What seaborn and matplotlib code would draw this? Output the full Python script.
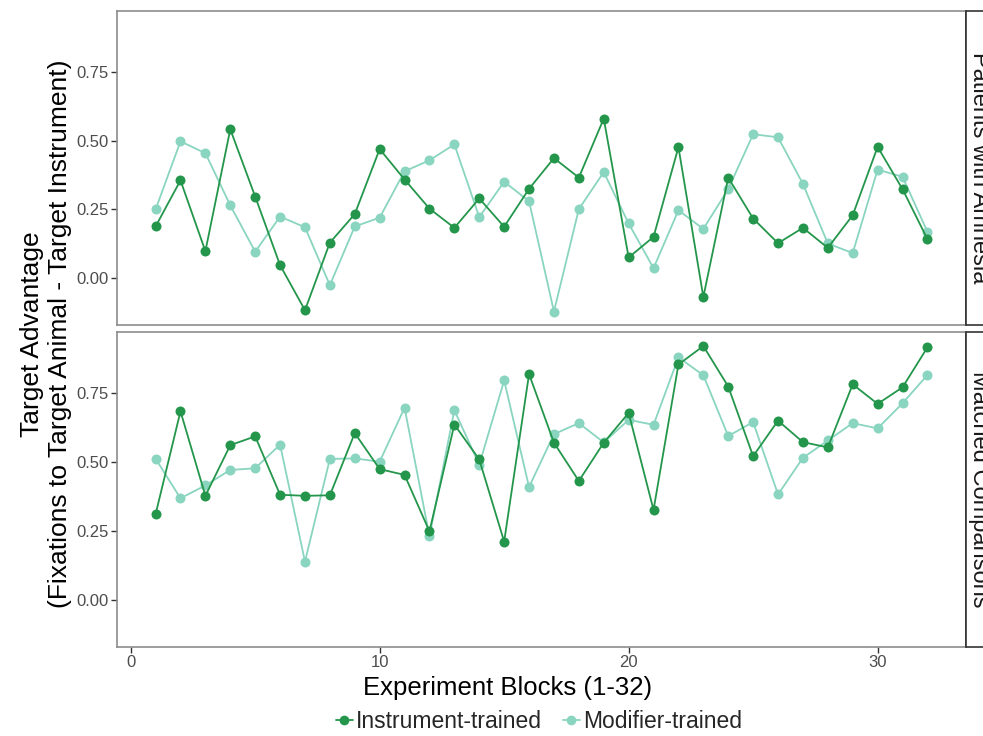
import numpy as np
import pandas as pd
import matplotlib
matplotlib.use("Agg")
import matplotlib.pyplot as plt
from matplotlib.lines import Line2D
from matplotlib.patches import Rectangle
import seaborn as sns

# ---------------- data ----------------
blocks = list(range(1, 33))
groups = ["Instrument-trained", "Modifier-trained"]
panels = ["Patients with Amnesia", "Matched Comparisons"]

amnesia_instrument = [0.187, 0.355, 0.097, 0.541, 0.296, 0.046, -0.118, 0.128,
                      0.232, 0.469, 0.358, 0.252, 0.182, 0.289, 0.186, 0.324,
                      0.436, 0.365, 0.580, 0.074, 0.149, 0.476, -0.070, 0.365,
                      0.216, 0.126, 0.182, 0.109, 0.228, 0.477, 0.323, 0.141]
amnesia_modifier = [0.249, 0.497, 0.454, 0.264, 0.095, 0.223, 0.184, -0.027,
                    0.187, 0.219, 0.388, 0.428, 0.486, 0.221, 0.350, 0.279,
                    -0.123, 0.250, 0.385, 0.198, 0.035, 0.246, 0.178, 0.323,
                    0.523, 0.512, 0.342, 0.125, 0.090, 0.394, 0.368, 0.168]
matched_instrument = [0.310, 0.684, 0.377, 0.561, 0.593, 0.381, 0.377, 0.379,
                      0.605, 0.474, 0.453, 0.248, 0.636, 0.509, 0.211, 0.819,
                      0.570, 0.431, 0.570, 0.678, 0.326, 0.854, 0.921, 0.774,
                      0.521, 0.650, 0.572, 0.553, 0.782, 0.711, 0.771, 0.916]
matched_modifier = [0.512, 0.368, 0.415, 0.471, 0.477, 0.563, 0.138, 0.511,
                    0.513, 0.501, 0.697, 0.230, 0.688, 0.490, 0.796, 0.409,
                    0.601, 0.641, 0.571, 0.653, 0.635, 0.880, 0.815, 0.594,
                    0.645, 0.382, 0.515, 0.578, 0.641, 0.622, 0.713, 0.816]

y_ticks = [0.0, 0.25, 0.50, 0.75]
y_tick_labels = ["0.00", "0.25", "0.50", "0.75"]
x_ticks = [0, 10, 20, 30]
x_tick_labels = ["0", "10", "20", "30"]

series = {
    (panels[0], groups[0]): amnesia_instrument,
    (panels[0], groups[1]): amnesia_modifier,
    (panels[1], groups[0]): matched_instrument,
    (panels[1], groups[1]): matched_modifier,
}
rows = []
for (p, g), vals in series.items():
    for b, v in zip(blocks, vals):
        rows.append({"panel": p, "group": g, "block": b, "value": v})
df = pd.DataFrame(rows)

# ---------------- style ----------------
sns.set_theme(style="white")
plt.rcParams["font.family"] = ["Liberation Sans", "DejaVu Sans"]

palette = {"Instrument-trained": "#23964b", "Modifier-trained": "#89d5bf"}
draw_order = ["Modifier-trained", "Instrument-trained"]

W, H = 983, 736
fig = plt.figure(figsize=(W / 100, H / 100), dpi=100)

left, right = 117 / W, 966 / W
panel_px = [(11, 325), (332, 647)]
axes = []
for (top_px, bot_px) in panel_px:
    ax = fig.add_axes([left, 1 - bot_px / H, right - left, (bot_px - top_px) / H])
    axes.append(ax)

ymin, ymax = -0.172, 0.972
xmin, xmax = -0.55, 33.55
spine_col = "#8c8c8c"

for i, (ax, pname) in enumerate(zip(axes, panels)):
    sub = df[df["panel"] == pname]
    sns.lineplot(data=sub, x="block", y="value", hue="group",
                 hue_order=draw_order, palette=palette, marker="o",
                 markersize=7.2, markeredgewidth=0, linewidth=1.3,
                 legend=False, ax=ax, sort=True)
    ax.set_xlim(xmin, xmax)
    ax.set_ylim(ymin, ymax)
    ax.set_yticks(y_ticks)
    ax.set_yticklabels(y_tick_labels)
    ax.set_xlabel("")
    ax.set_ylabel("")
    ax.tick_params(axis="y", which="both", left=True, length=4, width=1,
                   color="#333333", labelsize=12, labelcolor="#4d4d4d", pad=2)
    if i == 1:
        ax.set_xticks(x_ticks)
        ax.set_xticklabels(x_tick_labels)
        ax.tick_params(axis="x", which="both", bottom=True, length=4, width=1,
                       color="#333333", labelsize=12, labelcolor="#4d4d4d", pad=2)
    else:
        ax.set_xticks(x_ticks)
        ax.tick_params(axis="x", bottom=False, labelbottom=False)
    for s in ["left", "bottom", "top"]:
        ax.spines[s].set_color(spine_col)
        ax.spines[s].set_linewidth(1.2)
    ax.spines["right"].set_color("#333333")
    ax.spines["right"].set_linewidth(1.2)
    ax.grid(False)

    # strip on the right (partly outside the image, as in the reference)
    top_px, bot_px = panel_px[i]
    rect = Rectangle((right, 1 - bot_px / H), 0.06, (bot_px - top_px) / H,
                     transform=fig.transFigure, facecolor="white",
                     edgecolor="#333333", linewidth=1.2, clip_on=False)
    fig.add_artist(rect)
    fig.text(968 / W, 1 - ((top_px + bot_px) / 2) / H, pname, rotation=270,
             ha="left", va="center", fontsize=17, color="#1a1a1a")

# axis titles
fig.text(46 / W, 1 - 334 / H,
         "Target Advantage\n(Fixations to Target Animal - Target Instrument)",
         rotation=90, ha="center", va="center", multialignment="center",
         fontsize=19, color="black", linespacing=1.2)
fig.text(508 / W, 1 - 688 / H, "Experiment Blocks (1-32)", ha="center",
         va="center", fontsize=18.5, color="black")

# legend
handles = [Line2D([0], [0], color=palette[g], marker="o", markersize=7,
                  markeredgewidth=0, linewidth=1.3) for g in groups]
fig.legend(handles, groups, loc="center", bbox_to_anchor=(539 / W, 1 - 722 / H),
           ncol=2, frameon=False, fontsize=16.5, handlelength=0.75,
           handletextpad=0.15, columnspacing=0.9, borderpad=0)

fig.savefig("out.png", dpi=100)
